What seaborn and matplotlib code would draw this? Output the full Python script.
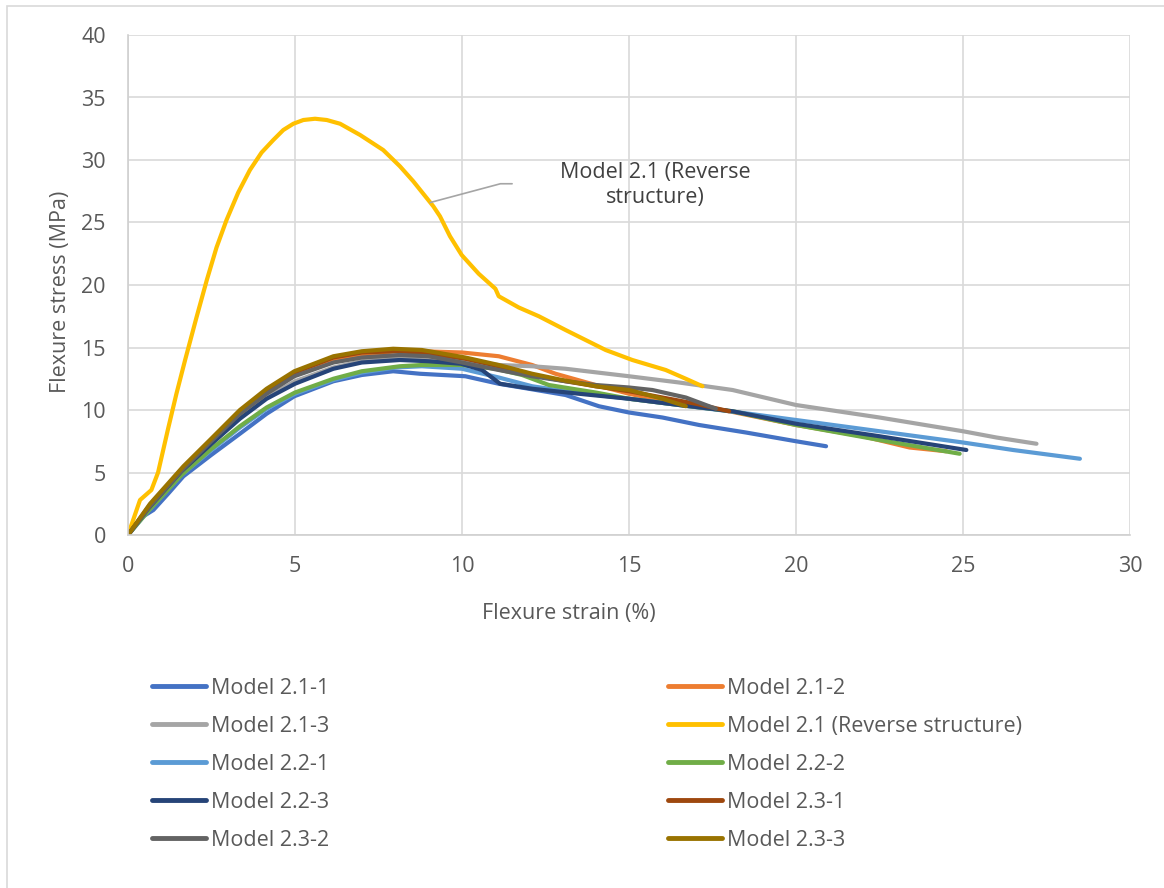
import pandas as pd
import seaborn as sns
import matplotlib.pyplot as plt
from matplotlib.lines import Line2D
from matplotlib.patches import Rectangle

sns.set_theme(style='whitegrid')
plt.rcParams['font.family'] = ['Open Sans', 'DejaVu Sans']

# Series names and colours (Office palette)
names = ['Model 2.1-1', 'Model 2.1-2', 'Model 2.1-3', 'Model 2.1 (Reverse structure)',
         'Model 2.2-1', 'Model 2.2-2', 'Model 2.2-3', 'Model 2.3-1', 'Model 2.3-2', 'Model 2.3-3']
colors = ['#4472C4', '#ED7D31', '#A5A5A5', '#FFC000', '#5B9BD5',
          '#70AD47', '#264478', '#9E480E', '#636363', '#997300']

# Values: strain (%) / stress (MPa)
m211_x = [0, 0.4, 0.76, 1.2, 1.66, 2.49, 3.35, 4.15, 4.98, 6.15, 7.0, 7.94, 8.74, 10.1, 11.1, 12.0, 13.1, 14.1, 15.0, 16.0, 17.1, 18.5, 20.0, 20.9]
m211_y = [0, 1.4, 2.0, 3.3, 4.7, 6.4, 8.1, 9.7, 11.1, 12.3, 12.8, 13.1, 12.9, 12.7, 12.1, 11.7, 11.2, 10.3, 9.8, 9.4, 8.8, 8.2, 7.5, 7.1]

m212_x = [0, 0.6, 1.6, 2.5, 3.35, 4.15, 5.0, 6.15, 7.0, 8.0, 8.8, 10.0, 11.1, 12.1, 12.8, 14.0, 15.0, 16.5, 18.0, 20.0, 22.0, 23.4, 24.5]
m212_y = [0, 2.2, 5.2, 7.5, 9.7, 11.4, 12.8, 13.9, 14.4, 14.7, 14.7, 14.6, 14.3, 13.6, 12.9, 12.0, 11.3, 10.5, 9.9, 8.8, 7.9, 7.0, 6.7]

m213_x = [0, 0.6, 1.6, 2.5, 3.35, 4.15, 5.0, 6.15, 7.0, 8.0, 8.8, 10.0, 11.1, 12.1, 13.1, 15.0, 16.5, 18.1, 20.0, 22.5, 25.0, 26.0, 27.2]
m213_y = [0, 2.1, 5.0, 7.3, 9.4, 11.0, 12.3, 13.4, 13.9, 14.2, 14.2, 13.9, 13.6, 13.5, 13.3, 12.7, 12.2, 11.6, 10.4, 9.4, 8.3, 7.8, 7.3]

rev_x = [0, 0.36, 0.7, 0.9, 1.2, 1.45, 1.71, 2.05, 2.36, 2.65, 2.95, 3.3, 3.65, 4.0, 4.35, 4.65, 4.95, 5.25, 5.6, 5.95, 6.35, 6.95, 7.64, 8.14, 8.54, 9.14, 9.34, 9.64, 9.99, 10.5, 11.0, 11.1, 11.7, 12.3, 13.1, 14.3, 15.1, 16.1, 16.7, 17.2]
rev_y = [0, 2.8, 3.6, 5.0, 8.5, 11.3, 14.0, 17.4, 20.4, 23.0, 25.2, 27.4, 29.2, 30.6, 31.6, 32.4, 32.9, 33.2, 33.3, 33.2, 32.9, 32.0, 30.8, 29.5, 28.3, 26.3, 25.5, 23.9, 22.4, 20.9, 19.7, 19.1, 18.2, 17.5, 16.4, 14.8, 14.0, 13.2, 12.5, 11.9]

m221_x = [0, 0.6, 1.6, 2.5, 3.35, 4.15, 5.0, 6.15, 7.0, 8.0, 8.8, 10.0, 11.1, 12.1, 13.1, 15.0, 16.5, 18.6, 20.0, 22.5, 25.0, 26.5, 28.5]
m221_y = [0, 1.9, 4.8, 6.8, 8.6, 10.1, 11.3, 12.4, 13.0, 13.4, 13.5, 13.3, 12.6, 11.9, 11.5, 10.9, 10.4, 9.7, 9.2, 8.3, 7.4, 6.8, 6.1]

m222_x = [0, 0.6, 1.6, 2.5, 3.35, 4.15, 5.0, 6.15, 7.0, 8.14, 8.8, 10.0, 11.0, 11.8, 12.6, 14.0, 15.0, 16.5, 18.1, 20.0, 22.5, 24.9]
m222_y = [0, 1.9, 4.8, 6.9, 8.7, 10.2, 11.4, 12.5, 13.1, 13.5, 13.6, 13.6, 13.3, 12.8, 12.0, 11.4, 10.9, 10.4, 9.9, 8.8, 7.6, 6.5]

m223_x = [0, 0.6, 1.6, 2.5, 3.35, 4.15, 5.0, 6.15, 7.0, 8.14, 9.0, 9.97, 10.6, 11.14, 12.1, 13.5, 15.0, 16.5, 18.1, 20.0, 22.5, 25.1]
m223_y = [0, 2.1, 5.1, 7.3, 9.3, 10.9, 12.1, 13.3, 13.8, 14.0, 13.9, 13.7, 13.2, 12.1, 11.7, 11.3, 10.9, 10.4, 9.9, 8.9, 7.9, 6.8]

m231_x = [0, 0.66, 1.66, 2.49, 3.35, 4.15, 4.98, 6.15, 7.0, 7.94, 8.8, 10.1, 11.1, 12.1, 13.1, 14.0, 15.0, 16.0, 17.0, 18.0]
m231_y = [0, 2.4, 5.4, 7.6, 9.9, 11.6, 13.0, 14.2, 14.6, 14.7, 14.6, 14.1, 13.5, 12.8, 12.3, 11.9, 11.5, 11.0, 10.5, 9.9]

m232_x = [0, 0.66, 1.66, 2.49, 3.35, 4.15, 4.98, 6.15, 7.0, 8.14, 9.0, 10.0, 11.1, 12.1, 13.1, 14.0, 15.0, 15.7, 16.7, 17.6]
m232_y = [0, 2.3, 5.3, 7.5, 9.7, 11.3, 12.7, 13.8, 14.2, 14.4, 14.3, 13.8, 13.2, 12.7, 12.3, 12.0, 11.8, 11.6, 11.0, 10.1]

m233_x = [0, 0.66, 1.66, 2.49, 3.35, 4.15, 4.98, 6.15, 7.0, 7.94, 8.8, 10.1, 11.1, 12.1, 13.0, 14.0, 15.0, 16.0, 16.7]
m233_y = [0, 2.5, 5.5, 7.7, 10.0, 11.7, 13.1, 14.3, 14.7, 14.9, 14.8, 14.2, 13.6, 12.9, 12.4, 11.9, 11.6, 10.9, 10.3]

xs = [m211_x, m212_x, m213_x, rev_x, m221_x, m222_x, m223_x, m231_x, m232_x, m233_x]
ys = [m211_y, m212_y, m213_y, rev_y, m221_y, m222_y, m223_y, m231_y, m232_y, m233_y]

frames = []
for name, x, y in zip(names, xs, ys):
    frames.append(pd.DataFrame({'Strain': x, 'Stress': y, 'Series': name}))
df = pd.concat(frames, ignore_index=True)

fig = plt.figure(figsize=(11.64, 8.88), dpi=100)
ax = fig.add_axes([128 / 1164, 1 - 535 / 888, 1002 / 1164, 500 / 888])

sns.lineplot(data=df, x='Strain', y='Stress', hue='Series', hue_order=names,
             palette=dict(zip(names, colors)), sort=False, estimator=None,
             linewidth=3.0, legend=False, ax=ax)
for line in ax.get_lines():
    line.set_solid_joinstyle('round')
    line.set_solid_capstyle('round')

ax.set_xlim(0, 30)
ax.set_ylim(0, 40)
ax.set_xticks(range(0, 31, 5))
ax.set_yticks(range(0, 41, 5))
ax.grid(True, color='#D9D9D9', linewidth=1.2)
ax.set_facecolor('white')
for side in ['top', 'right']:
    ax.spines[side].set_visible(False)
for side in ['left', 'bottom']:
    ax.spines[side].set_color('#D0D0D0')
    ax.spines[side].set_linewidth(1.2)
ax.tick_params(axis='both', length=0, labelsize=15.5, labelcolor='#595959')
ax.tick_params(axis='x', pad=15)
ax.tick_params(axis='y', pad=16)

ax.set_xlabel('Flexure strain (%)', fontsize=15.5, color='#595959')
ax.set_ylabel('Flexure stress (MPa)', fontsize=15.5, color='#595959')
ax.xaxis.set_label_coords(0.44, -0.137)
ax.yaxis.set_label_coords(-0.057, 0.486)

# Data label for the reverse-structure curve
ax.plot([9.05, 11.15, 11.5], [26.6, 28.1, 28.1], color='#A5A5A5', linewidth=1.2)
ax.text(15.8, 28.0, 'Model 2.1 (Reverse\nstructure)', fontsize=15.5, color='#404040',
        ha='center', va='center', linespacing=1.3)

# Legend in two columns, Excel order row by row
handles = [Line2D([], [], color=c, linewidth=3.5) for c in colors]
col1 = [0, 2, 4, 6, 8]
col2 = [1, 3, 5, 7, 9]
for idx, xpos in [(col1, 152 / 1164), (col2, 668 / 1164)]:
    fig.legend([handles[i] for i in idx], [names[i] for i in idx],
               loc='upper left', bbox_to_anchor=(xpos, 1 - 678 / 888),
               frameon=False, fontsize=15.5, labelcolor='#595959',
               handlelength=2.5, handletextpad=0.23, labelspacing=0.79,
               borderpad=0, borderaxespad=0)

# Chart area border
fig.patches.append(Rectangle((7 / 1164, -0.05), 1.1, 1 - 6 / 888 + 0.05, transform=fig.transFigure,
                             fill=False, edgecolor='#D9D9D9', linewidth=1.2))

fig.savefig('out.png', dpi=100, facecolor='white')
